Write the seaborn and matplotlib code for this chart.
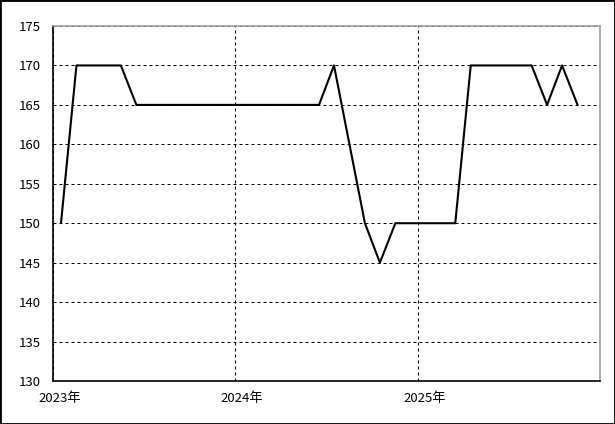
import seaborn as sns
import pandas as pd
import matplotlib.pyplot as plt
import matplotlib.transforms as mtransforms
from matplotlib.patches import Rectangle

# Monthly values, Jan 2023 - Nov 2025 (plotted mid-month)
months = pd.date_range("2023-01-01", periods=35, freq="MS") + pd.Timedelta(days=16)
values = [150, 170, 170, 170, 170,
          165, 165, 165, 165, 165, 165, 165, 165, 165, 165, 165, 165, 165,
          170, 160, 150, 145, 150, 150, 150, 150, 150,
          170, 170, 170, 170, 170, 165, 170, 165]
year_ticks = ["2023-01-01", "2024-01-01", "2025-01-01"]
year_labels = ["2023年", "2024年", "2025年"]

df = pd.DataFrame({"month": months, "value": values})

sns.set_style("white")
plt.rcParams["font.family"] = ["Noto Sans CJK JP", "DejaVu Sans"]

fig = plt.figure(figsize=(6.15, 4.24), dpi=100)
ax = fig.add_axes([53 / 615, 1 - 381 / 424, 547 / 615, 355 / 424])

sns.lineplot(data=df, x="month", y="value", ax=ax, color="black", linewidth=1.5)

ax.set_xlim(pd.Timestamp("2023-01-01"), pd.Timestamp("2026-01-01"))
ax.set_ylim(130, 175)
ax.set_yticks(range(130, 176, 5))
ax.set_xticks(pd.to_datetime(year_ticks))
ax.set_xticklabels(year_labels)
ax.set_xlabel("")
ax.set_ylabel("")

# dashed grid
ax.grid(True, color="black", linewidth=0.72, linestyle=(0, (3, 3)))
ax.set_axisbelow(True)

ax.tick_params(length=0, labelsize=9.5, colors="black")
ax.tick_params(axis="y", pad=9)
ax.tick_params(axis="x", pad=8)

# year labels sit a little to the right of their grid lines
offset = mtransforms.ScaledTranslation(7 / 100, 0, fig.dpi_scale_trans)
for lbl in ax.get_xticklabels():
    lbl.set_transform(lbl.get_transform() + offset)

for side in ["left", "bottom"]:
    ax.spines[side].set_color("black")
    ax.spines[side].set_linewidth(1.2)
for side in ["top", "right"]:
    ax.spines[side].set_color("#a0a0a0")
    ax.spines[side].set_linewidth(1.2)
    ax.spines[side].set_visible(True)

# outer frame around the whole image
fig.patches.append(Rectangle((0, 0), 1, 1, transform=fig.transFigure,
                             fill=False, edgecolor="black", linewidth=2))

plt.savefig("out.png", dpi=100)
